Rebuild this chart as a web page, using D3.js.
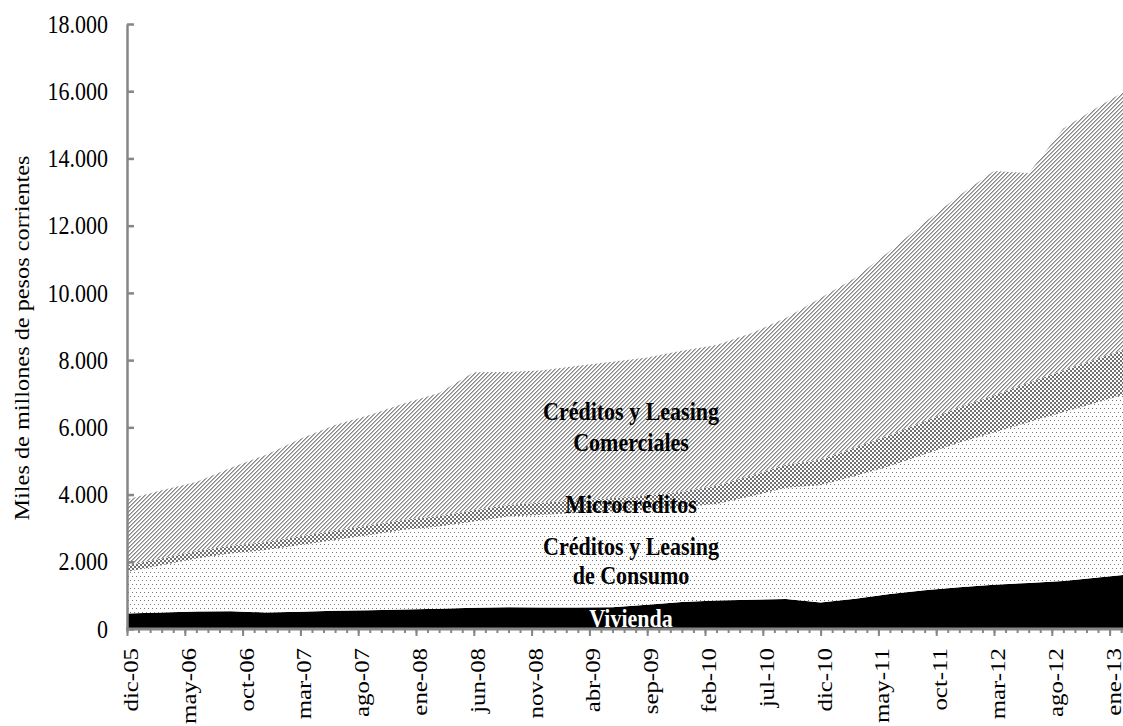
<!DOCTYPE html>
<html>
<head>
<meta charset="utf-8">
<script src="https://cdn.jsdelivr.net/npm/d3@7"></script>
<style>
body{margin:0;background:#fff}
text{font-family:"Liberation Serif","Times New Roman",serif}
</style>
</head>
<body>
<div id="container"></div>
<script>
// quarterly observations
const quarters = ["dic-05","mar-06","jun-06","sep-06","dic-06","mar-07","jun-07","sep-07","dic-07","mar-08",
  "jun-08","sep-08","dic-08","mar-09","jun-09","sep-09","dic-09","mar-10","jun-10","sep-10",
  "dic-10","mar-11","jun-11","sep-11","dic-11","mar-12","jun-12","sep-12","dic-12","mar-13"];
const vivienda = [460,490,520,530,490,510,540,560,580,600,630,650,640,640,650,720,800,850,870,890,
  790,900,1040,1150,1240,1320,1370,1430,1530,1640];
const consumo = [1240,1410,1580,1720,1860,1990,2110,2240,2370,2450,2570,2700,2760,2810,2850,2830,2820,2870,3080,3310,
  3490,3650,3810,4050,4310,4530,4780,5020,5220,5410];
const microcreditos = [200,200,220,230,240,260,270,290,300,310,330,350,360,380,400,420,470,540,620,690,
  760,850,920,980,1050,1100,1180,1250,1300,1350];
const comerciales = [1950,2030,2050,2320,2590,2900,3150,3280,3470,3660,4110,3950,3940,4000,4050,4110,4190,4190,4230,4360,
  4810,5050,5480,5920,6300,6680,6230,7190,7480,7740];

const monthNames = ["ene","feb","mar","abr","may","jun","jul","ago","sep","oct","nov","dic"];
const xTickLabels = ["dic-05","may-06","oct-06","mar-07","ago-07","ene-08","jun-08","nov-08","abr-09","sep-09",
  "feb-10","jul-10","dic-10","may-11","oct-11","mar-12","ago-12","ene-13"];
const yTicks = [0,2000,4000,6000,8000,10000,12000,14000,16000,18000];

// every month on the axis, dic-05 .. mar-13
var months = ["dic-05"];
for(var yr=6;yr<=13;yr++){
  for(var mi=0;mi<12;mi++){
    if(yr==13 && mi>2) break;
    months.push(monthNames[mi]+"-"+(yr<10?"0"+yr:yr));
  }
}

const width = 1123, height = 726;
const plotLeft = 127, plotBase = 629, plotTop = 24, monthW = 11.56;
const stretch = 1.13; // text in the original is a bit taller than wide

const svg = d3.select('#container').append('svg')
  .attr('width', width).attr('height', height);

const defs = svg.append('defs');
// dots for consumo
var p1 = defs.append('pattern').attr('id','dots').attr('patternUnits','userSpaceOnUse')
  .attr('width',8).attr('height',8);
p1.append('rect').attr('width',8).attr('height',8).attr('fill','#fff');
[[0,0],[4,0],[2,4],[6,4]].forEach(function(d){
  p1.append('rect').attr('x',d[0]).attr('y',d[1]).attr('width',1).attr('height',1).attr('fill','#7a7a7a');
});
// checker for micro
var p2 = defs.append('pattern').attr('id','check').attr('patternUnits','userSpaceOnUse')
  .attr('width',4).attr('height',4);
p2.append('rect').attr('width',4).attr('height',4).attr('fill','#fff');
p2.append('rect').attr('x',0).attr('y',0).attr('width',2).attr('height',2).attr('fill','#707070');
p2.append('rect').attr('x',2).attr('y',2).attr('width',2).attr('height',2).attr('fill','#707070');
// diagonal for comerciales
var p3 = defs.append('pattern').attr('id','diag').attr('patternUnits','userSpaceOnUse')
  .attr('width',4).attr('height',4);
p3.append('rect').attr('width',4).attr('height',4).attr('fill','#fff');
for(var i=0;i<4;i++){
  p3.append('rect').attr('x',i).attr('y',3-i).attr('width',1).attr('height',1).attr('fill','#888');
  p3.append('rect').attr('x',i).attr('y',(4-i)%4).attr('width',1).attr('height',1).attr('fill','#b4b4b4');
}

const xScale = d3.scalePoint().domain(months).range([plotLeft, plotLeft+(months.length-1)*monthW]);
const yScale = d3.scaleLinear().domain([0,18000]).range([plotBase, plotTop]);

var rows = quarters.map(function(q,i){
  return {q:q, vivienda:vivienda[i], consumo:consumo[i], micro:microcreditos[i], comerciales:comerciales[i]};
});
var keys = ["vivienda","consumo","micro","comerciales"];
var fills = {vivienda:"#000", consumo:"url(#dots)", micro:"url(#check)", comerciales:"url(#diag)"};
var stacked = d3.stack().keys(keys)(rows);

var area = d3.area()
  .x(function(d){ return xScale(d.data.q); })
  .y0(function(d){ return yScale(d[0]); })
  .y1(function(d){ return yScale(d[1]); });

svg.append('g').selectAll('path').data(stacked).enter().append('path')
  .attr('d', area)
  .attr('fill', function(d){ return fills[d.key]; });

// area labels
function label(txt, x, y, col){
  svg.append('text')
    .attr('transform','translate('+x+','+y+') scale(1,'+stretch+')')
    .attr('font-weight','bold').attr('font-size','22px').attr('text-anchor','middle')
    .attr('fill', col || '#000')
    .text(txt);
}
label('Créditos y Leasing', 631, 420);
label('Comerciales', 631, 451);
label('Microcréditos', 631, 513);
label('Créditos y Leasing', 631, 555);
label('de Consumo', 631, 584);
label('Vivienda', 631, 627, '#fff');

// x axis: minor ticks every month
var axisColor = '#868686';
var gx = svg.append('g').attr('transform','translate(0,'+plotBase+')')
  .call(d3.axisBottom(xScale).tickValues(months).tickSize(4).tickSizeOuter(0).tickFormat(''));
gx.select('.domain').remove();
gx.selectAll('.tick line').attr('stroke',axisColor).attr('stroke-width',2);
var gx2 = svg.append('g').attr('transform','translate(0,'+plotBase+')')
  .call(d3.axisBottom(xScale).tickValues(xTickLabels).tickSize(7).tickSizeOuter(0).tickFormat(''));
gx2.select('.domain').remove();
gx2.selectAll('.tick line').attr('stroke',axisColor).attr('stroke-width',2);
svg.append('line').attr('x1',plotLeft-1).attr('x2',width).attr('y1',plotBase).attr('y2',plotBase)
  .attr('stroke',axisColor).attr('stroke-width',3);

svg.append('g').selectAll('text').data(xTickLabels).enter().append('text')
  .attr('transform', function(d){ return 'translate('+(xScale(d)+11)+','+(plotBase+19)+') scale(1,'+stretch+') rotate(-90)'; })
  .attr('text-anchor','end')
  .attr('font-size','22px')
  .text(function(d){ return d; });

// y axis
var loc = d3.formatLocale({decimal:",", thousands:".", grouping:[3], currency:["$",""]});
var gy = svg.append('g').attr('transform','translate('+plotLeft+',0)')
  .call(d3.axisRight(yScale).tickValues(yTicks).tickSize(7).tickSizeOuter(0).tickFormat(''));
gy.select('.domain').attr('stroke',axisColor).attr('stroke-width',2.5);
gy.selectAll('.tick line').attr('stroke',axisColor).attr('stroke-width',2.5);
svg.append('g').selectAll('text').data(yTicks).enter().append('text')
  .attr('transform',function(d){ return 'translate(108,'+yScale(d)+') scale(1,'+stretch+')'; })
  .attr('dy','0.35em')
  .attr('text-anchor','end').attr('font-size','22px')
  .text(function(d){ return loc.format(",")(d); });

svg.append('text')
  .attr('transform','translate(29,338) scale(1,'+stretch+') rotate(-90)')
  .attr('text-anchor','middle').attr('font-size','21.5px')
  .text('Miles de millones de pesos corrientes');
</script>
</body>
</html>
